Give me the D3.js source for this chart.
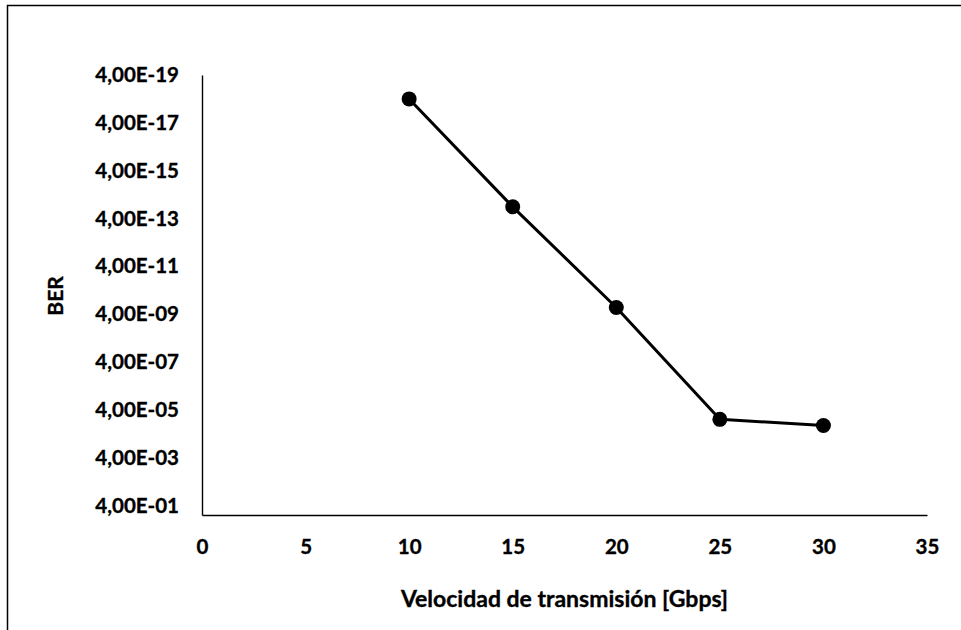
<!DOCTYPE html>
<html>
<head>
<meta charset="utf-8">
<script src="https://cdn.jsdelivr.net/npm/d3@7"></script>
<style>
  html, body { margin: 0; padding: 0; background: #fff; }
  svg { display: block; }
  text { font-family: Lato, "Open Sans", sans-serif; font-weight: 700; fill: #000;
         stroke: #000; stroke-width: 0.35px; }
</style>
</head>
<body>
<svg id="chart" width="961" height="630"></svg>
<script>
// Transmission speed (Gbps) and measured bit error rate
const speeds = [10, 15, 20, 25, 30];
const berValues = [4.0e-18, 1.3e-13, 2.1e-9, 1.0e-4, 1.8e-4];

// Axis ticks
const xTicks = [0, 5, 10, 15, 20, 25, 30, 35];
const yTickValues = [4e-19, 4e-17, 4e-15, 4e-13, 4e-11, 4e-9, 4e-7, 4e-5, 4e-3, 4e-1];
const yTickLabels = ["4,00E-19", "4,00E-17", "4,00E-15", "4,00E-13", "4,00E-11",
                     "4,00E-09", "4,00E-07", "4,00E-05", "4,00E-03", "4,00E-01"];

const xTitle = "Velocidad de transmisión [Gbps]";
const yTitle = "BER";

const svg = d3.select("#chart");

// Chart frame
svg.append("rect")
  .attr("x", 7.5).attr("y", 5.5)
  .attr("width", 1000).attr("height", 700)
  .attr("fill", "none").attr("stroke", "#000").attr("stroke-width", 1.5);

const plot = { left: 202, right: 927, top: 75, bottom: 515 };

const x = d3.scaleLinear().domain([0, 35]).range([plot.left, plot.right]);
// Log axis drawn in reverse order: smallest BER at the top
const y = d3.scaleLog().domain([4e-19, 1]).range([plot.top, plot.bottom]);

// Y axis
const yAxis = svg.append("g")
  .attr("transform", `translate(${plot.left},0)`)
  .call(d3.axisLeft(y)
    .tickValues(yTickValues)
    .tickFormat((d, i) => yTickLabels[i])
    .tickSize(0)
    .tickPadding(23));
yAxis.select(".domain").attr("stroke", "#000").attr("stroke-width", 1.4);
yAxis.selectAll("text")
  .style("font-size", "20.5px")
  .style("font-family", "Lato, sans-serif")
  .style("font-weight", 700);

// X axis
const xAxis = svg.append("g")
  .attr("transform", `translate(0,${plot.bottom})`)
  .call(d3.axisBottom(x).tickValues(xTicks).tickFormat(d3.format("d")).tickSize(0));
xAxis.select(".domain").attr("stroke", "#000").attr("stroke-width", 1.4);
xAxis.selectAll("text")
  .attr("y", 32).attr("dy", "0.35em")
  .style("font-size", "20.5px")
  .style("font-family", "Lato, sans-serif")
  .style("font-weight", 700);

// Axis titles
svg.append("text")
  .attr("x", (plot.left + plot.right) / 2)
  .attr("y", 599).attr("dy", "0.35em")
  .attr("text-anchor", "middle")
  .style("font-size", "23px")
  .text(xTitle);

svg.append("text")
  .attr("transform", "translate(56,296) rotate(-90)")
  .attr("dy", "0.35em")
  .attr("text-anchor", "middle")
  .style("font-size", "21px")
  .text(yTitle);

// Series line and markers
const data = speeds.map((s, i) => ({ s, v: berValues[i] }));

svg.append("path")
  .datum(data)
  .attr("fill", "none")
  .attr("stroke", "#000")
  .attr("stroke-width", 3)
  .attr("stroke-linejoin", "round")
  .attr("d", d3.line().x(d => x(d.s)).y(d => y(d.v)));

svg.selectAll("circle.pt")
  .data(data)
  .join("circle")
  .attr("class", "pt")
  .attr("cx", d => x(d.s))
  .attr("cy", d => y(d.v))
  .attr("r", 7.5)
  .attr("fill", "#000");
</script>
</body>
</html>
